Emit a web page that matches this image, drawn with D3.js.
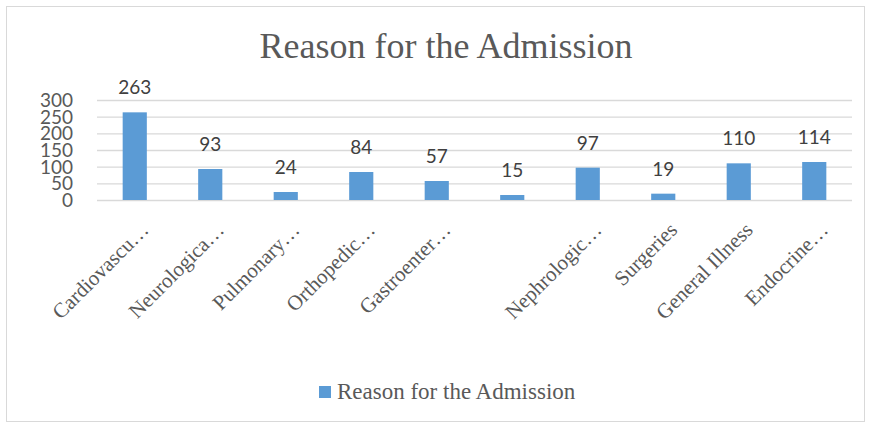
<!DOCTYPE html>
<html>
<head>
<meta charset="utf-8">
<script src="https://cdn.jsdelivr.net/npm/d3@7"></script>
<style>
  body { margin: 0; background: #fff; }
</style>
</head>
<body>
<script>
var width = 871, height = 428

// data
var categories = ["Cardiovascu…", "Neurologica…", "Pulmonary…", "Orthopedic…", "Gastroenter…", "",
                  "Nephrologic…", "Surgeries", "General Illness", "Endocrine…"]
var values = [263, 93, 24, 84, 57, 15, 97, 19, 110, 114]
var yTicks = [0, 50, 100, 150, 200, 250, 300]
var seriesName = "Reason for the Admission"

var svg = d3.select("body").append("svg")
    .attr("width", width).attr("height", height)

// outer frame
svg.append("rect")
    .attr("x", 6.5).attr("y", 6.5)
    .attr("width", width - 13).attr("height", height - 13)
    .attr("fill", "#fff").attr("stroke", "#d9d9d9")

var plotLeft = 97, plotRight = 852, plotTop = 100, plotBottom = 200

var xScale = d3.scaleBand()
    .domain(d3.range(categories.length))
    .range([plotLeft, plotRight])
    .paddingInner(0.68).paddingOuter(0.34)
var yScale = d3.scaleLinear()
    .domain([0, 300])
    .range([plotBottom, plotTop])

// title
svg.append("text")
    .attr("x", 446).attr("y", 58)
    .attr("text-anchor", "middle")
    .style("font-family", "Liberation Serif, serif")
    .style("font-size", "36px")
    .attr("fill", "#595959")
    .text(seriesName)

// grid
var yGrid = d3.axisLeft(yScale)
    .tickValues(yTicks)
    .tickFormat('')
    .tickSizeInner(-(plotRight - plotLeft))
    .tickSizeOuter(0)
var g = svg.append("g")
    .attr("transform", "translate(" + plotLeft + ",0)")
    .call(yGrid)
g.select(".domain").remove()
g.selectAll("line").attr("stroke", "#d9d9d9").attr("stroke-width", 1.3)

// y labels
svg.append("g")
    .selectAll("text").data(yTicks)
    .enter().append("text")
    .attr("x", 73).attr("y", d => yScale(d))
    .attr("dy", "0.36em")
    .attr("text-anchor", "end")
    .style("font-family", "Lato, sans-serif")
    .style("font-size", "19px")
    .attr("fill", "#595959")
    .text(d => d)

// bars
svg.append("g")
    .selectAll("rect").data(values)
    .enter().append("rect")
    .attr("x", (d, i) => xScale(i))
    .attr("y", d => yScale(d))
    .attr("width", xScale.bandwidth())
    .attr("height", d => yScale(0) - yScale(d))
    .attr("fill", "#5b9bd5")

// value labels
svg.append("g")
    .selectAll("text").data(values)
    .enter().append("text")
    .attr("x", (d, i) => xScale(i) + xScale.bandwidth() / 2)
    .attr("y", d => yScale(d) - 18)
    .attr("text-anchor", "middle")
    .style("font-family", "Lato, sans-serif")
    .style("font-size", "19px")
    .attr("fill", "#404040")
    .text(d => d)

// category labels
svg.append("g")
    .selectAll("text").data(categories)
    .enter().append("text")
    .attr("transform", (d, i) => "translate(" + (xScale(i) + xScale.bandwidth() / 2 + 10) + ",226) rotate(-45)")
    .attr("text-anchor", "end")
    .attr("dy", "0.35em")
    .style("font-family", "Liberation Serif, serif")
    .style("font-size", "21px")
    .attr("fill", "#595959")
    .text(d => d)

// legend
svg.append("rect")
    .attr("x", 319).attr("y", 386)
    .attr("width", 12).attr("height", 12)
    .attr("fill", "#5b9bd5")
svg.append("text")
    .attr("x", 337).attr("y", 399)
    .style("font-family", "Liberation Serif, serif")
    .style("font-size", "23px")
    .attr("fill", "#595959")
    .text(seriesName)
</script>
</body>
</html>
